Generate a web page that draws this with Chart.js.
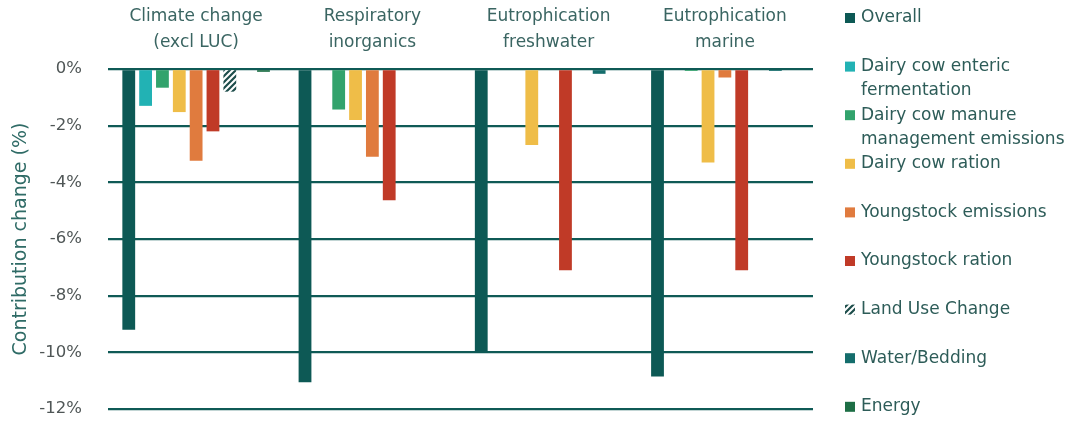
<!DOCTYPE html>
<html>
<head>
<meta charset="utf-8">
<script src="https://cdn.jsdelivr.net/npm/chart.js@4.4.1/dist/chart.umd.min.js"></script>
<style>
  html, body { margin: 0; padding: 0; background: #ffffff; }
  #wrap { width: 1066px; height: 445px; }
</style>
</head>
<body>
<div id="wrap"><canvas id="impactChart" width="1066" height="445"></canvas></div>
<script>
// categories (impact categories, shown along the top)
const categories = [
  ["Climate change", "(excl LUC)"],
  ["Respiratory", "inorganics"],
  ["Eutrophication", "freshwater"],
  ["Eutrophication", "marine"]
];

// contribution change in %, one value per category
const overall             = [-9.2, -11.05, -10.0, -10.85];
const entericFermentation = [-1.3, 0, 0, 0];
const manureManagement    = [-0.66, -1.43, 0, -0.07];
const cowRation           = [-1.52, -1.8, -2.68, -3.3];
const youngstockEmissions = [-3.24, -3.1, 0, -0.3];
const youngstockRation    = [-2.2, -4.63, -7.1, -7.1];
const landUseChange       = [-0.8, 0, 0, 0];
const waterBedding        = [0, 0, -0.17, -0.07];
const energy              = [-0.1, 0, 0, 0];

const seriesNames = [
  "Overall", "Dairy cow enteric fermentation", "Dairy cow manure management emissions",
  "Dairy cow ration", "Youngstock emissions", "Youngstock ration",
  "Land Use Change", "Water/Bedding", "Energy"
];
const legendLines = [
  ["Overall"], ["Dairy cow enteric", "fermentation"], ["Dairy cow manure", "management emissions"],
  ["Dairy cow ration"], ["Youngstock emissions"], ["Youngstock ration"],
  ["Land Use Change"], ["Water/Bedding"], ["Energy"]
];
const yTicks = [0, -2, -4, -6, -8, -10, -12];

const FONT = "'DejaVu Sans', sans-serif";
const TEAL = "#0f5a56";

function hatch() {
  const c = document.createElement("canvas");
  c.width = 6; c.height = 6;
  const g = c.getContext("2d");
  g.fillStyle = "#ffffff";
  g.fillRect(0, 0, 6, 6);
  g.strokeStyle = "#1d4d4b";
  g.lineWidth = 2.2;
  g.beginPath();
  g.moveTo(-1, 7); g.lineTo(7, -1);
  g.moveTo(-4, 4); g.lineTo(4, -4);
  g.moveTo(2, 10); g.lineTo(10, 2);
  g.stroke();
  return g.createPattern(c, "repeat");
}

const values = [overall, entericFermentation, manureManagement, cowRation,
  youngstockEmissions, youngstockRation, landUseChange, waterBedding, energy];
const colors = ["#0d5955", "#22b2b4", "#32a36c", "#efbd48", "#e07b3e", "#c03a27",
  hatch(), "#146d6c", "#1d6e45"];

const legendPlugin = {
  id: "sideLegend",
  afterDraw(chart) {
    const ctx = chart.ctx;
    ctx.save();
    ctx.font = "17px " + FONT;
    ctx.textBaseline = "middle";
    chart.data.datasets.forEach((ds, i) => {
      const y0 = 18 + i * 48.6;
      ctx.fillStyle = ds.backgroundColor;
      ctx.fillRect(845, y0 - 5, 10, 10);
      ctx.fillStyle = "#2d5c58";
      legendLines[i].forEach((line, j) => {
        ctx.fillText(line, 861, y0 + j * 24);
      });
    });
    ctx.restore();
  }
};

new Chart(document.getElementById("impactChart"), {
  type: "bar",
  data: {
    labels: categories,
    datasets: values.map((v, i) => ({
      label: seriesNames[i],
      data: v,
      backgroundColor: colors[i],
      borderWidth: 0,
      categoryPercentage: 0.86,
      barPercentage: 0.76
    }))
  },
  options: {
    responsive: false,
    animation: false,
    devicePixelRatio: 1,
    layout: { padding: { left: 10, right: 253, top: 4, bottom: 13 } },
    plugins: { legend: { display: false }, tooltip: { enabled: false } },
    scales: {
      x: {
        position: "top",
        grid: { display: false },
        border: { display: false },
        ticks: {
          color: "#3a6562",
          font: { family: FONT, size: 17, lineHeight: 1.5 },
          padding: 6,
          maxRotation: 0
        },
        afterFit: (scale) => { scale.height = 65; }
      },
      y: {
        min: -12,
        max: 0,
        grid: { color: TEAL, lineWidth: 2.3, drawTicks: false },
        border: { display: false },
        afterBuildTicks: (scale) => { scale.ticks = yTicks.map(v => ({ value: v })); },
        ticks: {
          color: "#4f5656",
          font: { family: FONT, size: 16.5 },
          padding: 26,
          callback: (v) => v + "%"
        },
        title: {
          display: true,
          text: "Contribution change (%)",
          color: "#2f6b66",
          font: { family: FONT, size: 19 },
          padding: { top: 0, bottom: 2 }
        },
        afterFit: (scale) => { scale.width = 98; }
      }
    }
  },
  plugins: [legendPlugin]
});
</script>
</body>
</html>
